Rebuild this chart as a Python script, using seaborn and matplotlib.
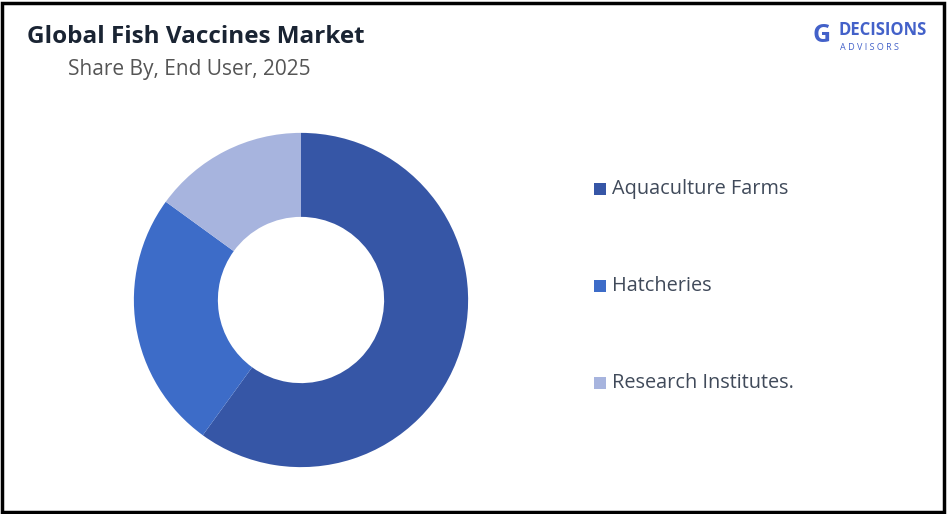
import matplotlib.pyplot as plt
import seaborn as sns
from matplotlib.patches import Rectangle

sns.set_theme(style="white")
plt.rcParams['font.family'] = ['Open Sans', 'DejaVu Sans']

labels = ['Aquaculture Farms', 'Hatcheries', 'Research Institutes.']
shares = [60, 25, 15]
colors = ['#3656a6', '#3d6cc8', '#a7b4de']

fig = plt.figure(figsize=(9.49, 5.14), dpi=100)
fig.patch.set_facecolor('white')
fig.add_artist(Rectangle((0.002, 0.004), 0.993, 0.99, transform=fig.transFigure,
                         fill=False, lw=2.5, ec='black'))

ax = fig.add_axes([301/949 - 175/949, 1 - (300 + 175)/514, 350/949, 350/514])
ax.pie(shares, colors=colors, startangle=90, counterclock=False,
       wedgeprops=dict(width=0.48, edgecolor='none'), radius=0.955)
ax.set_xlim(-1, 1); ax.set_ylim(-1, 1)
ax.set_aspect('equal')

fig.text(27/949, 1 - 37/514, 'Global Fish Vaccines Market', fontsize=17.5,
         fontweight='bold', color='#1a2433', va='center')
fig.text(68/949, 1 - 70/514, 'Share By, End User, 2025', fontsize=15,
         color='#555555', va='center')

for i, (lab, c) in enumerate(zip(labels, colors)):
    y = 1 - (189 + i * 97) / 514
    fig.add_artist(Rectangle((594/949, y - 6/514), 12/949, 12/514,
                             transform=fig.transFigure, fc=c, ec='none'))
    fig.text(612/949, y, lab, fontsize=14.3, color='#404a5a', va='center')

# logo
fig.text(838/949, 1 - 30/514, 'DECISIONS', fontsize=12, fontweight='bold',
         color='#4361c9', va='center')
fig.text(840/949, 1 - 47/514, 'A D V I S O R S', fontsize=6.5,
         color='#4361c9', va='center')
fig.text(813/949, 1 - 36/514, 'G', fontsize=18, fontweight='bold',
         color='#4361c9', va='center')

fig.savefig('out.png', dpi=100)
